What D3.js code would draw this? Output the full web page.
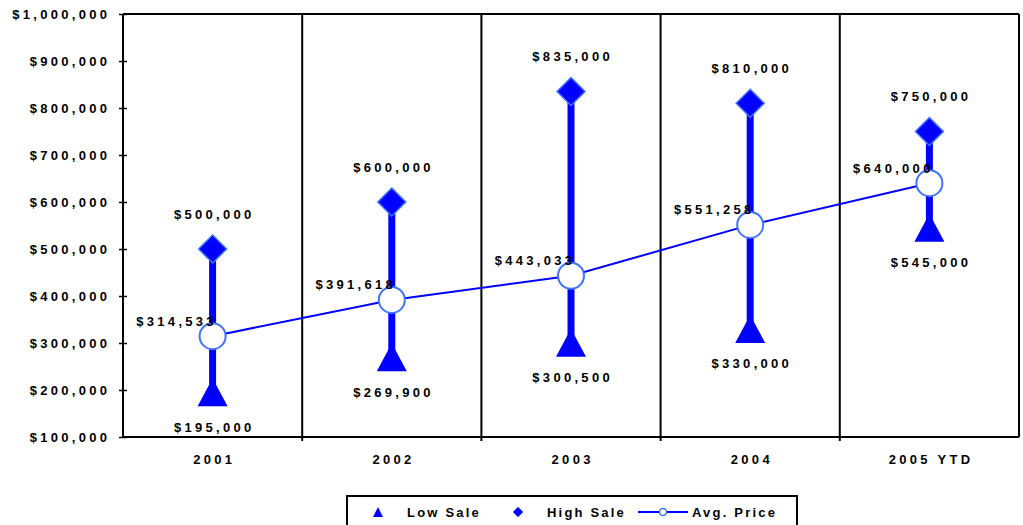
<!DOCTYPE html>
<html>
<head>
<meta charset="utf-8">
<script src="https://cdn.jsdelivr.net/npm/d3@7"></script>
<style>
  body { margin: 0; background: #fff; }
  text { font-family: "Liberation Sans", Arial, sans-serif; font-weight: bold; font-size: 13px; letter-spacing: 3.3px; fill: #000; }
  .legend text { letter-spacing: 2.2px; }
</style>
</head>
<body>
<script>
'use strict';

const years = ['2001', '2002', '2003', '2004', '2005 YTD'];
const lowSale = [195000, 269900, 300500, 330000, 545000];
const highSale = [500000, 600000, 835000, 810000, 750000];
const avgPrice = [314533, 391618, 443033, 551258, 640000];
const yTicks = [100000, 200000, 300000, 400000, 500000, 600000, 700000, 800000, 900000, 1000000];

const margin = {top: 14, right: 4, bottom: 88, left: 123};
const width = 1023 - margin.left - margin.right;
const height = 525 - margin.top - margin.bottom;
const blue = '#0000ff';
const lightBlue = '#3f74ff';
const money = d => '$' + d3.format(',')(d);
const LS = 3.3; // trailing letter-spacing to compensate

const svg = d3.select('body').append('svg')
    .attr('width', 1023)
    .attr('height', 525);

const g = svg.append('g')
    .attr('transform', 'translate(' + margin.left + ',' + margin.top + ')');

const xScale = d3.scaleBand().domain(years).range([0, width]);
const yScale = d3.scaleLinear().domain([100000, 1000000]).range([height, 0]);
const cx = d => xScale(d) + xScale.bandwidth() / 2;

// frame and dividers
g.append('line').attr('x1', 0).attr('x2', width).attr('y1', 0).attr('y2', 0)
    .attr('stroke', '#000').attr('stroke-width', 2);
g.append('line').attr('x1', width).attr('x2', width).attr('y1', 0).attr('y2', height)
    .attr('stroke', '#000').attr('stroke-width', 2);
g.selectAll('.divider')
  .data(years.slice(1))
  .join('line')
    .attr('class', 'divider')
    .attr('x1', d => xScale(d)).attr('x2', d => xScale(d))
    .attr('y1', 0).attr('y2', height + 4)
    .attr('stroke', '#000').attr('stroke-width', 2);

// y axis
const yAxis = g.append('g')
    .call(d3.axisLeft(yScale).tickValues(yTicks).tickFormat(money).tickSize(4).tickPadding(12));
yAxis.select('.domain').attr('stroke', '#000').attr('stroke-width', 2).attr('d', 'M0,' + height + 'V0');
yAxis.selectAll('.tick line').attr('x2', 4).attr('x1', -4).attr('stroke-width', 1.5);
yAxis.selectAll('.tick text')
    .attr('font-size', null).attr('font-family', null)
    .attr('dx', LS);

// x axis
const xAxis = g.append('g')
    .attr('transform', 'translate(0,' + height + ')')
    .call(d3.axisBottom(xScale).tickSize(0).tickPadding(18));
xAxis.select('.domain').attr('stroke', '#000').attr('stroke-width', 2).attr('d', 'M0,0H' + width);
xAxis.selectAll('.tick text')
    .attr('font-size', null).attr('font-family', null)
    .attr('dx', LS / 2);

// stems
g.selectAll('.stem')
  .data(years)
  .join('line')
    .attr('class', 'stem')
    .attr('x1', cx).attr('x2', cx)
    .attr('y1', (d, i) => yScale(highSale[i]))
    .attr('y2', (d, i) => yScale(lowSale[i]))
    .attr('stroke', blue).attr('stroke-width', 7);

// avg line
g.append('path')
    .datum(years)
    .attr('fill', 'none')
    .attr('stroke', blue)
    .attr('stroke-width', 2)
    .attr('d', d3.line().x(cx).y((d, i) => yScale(avgPrice[i])));

// low triangles
g.selectAll('.low')
  .data(years)
  .join('path')
    .attr('class', 'low')
    .attr('transform', (d, i) => 'translate(' + cx(d) + ',' + yScale(lowSale[i]) + ')')
    .attr('d', 'M0,-14L15,14L-15,14Z')
    .attr('fill', blue);

// high diamonds
g.selectAll('.high')
  .data(years)
  .join('path')
    .attr('class', 'high')
    .attr('transform', (d, i) => 'translate(' + cx(d) + ',' + yScale(highSale[i]) + ')')
    .attr('d', 'M0,-14L14,0L0,14L-14,0Z')
    .attr('fill', blue)
    .attr('stroke', lightBlue).attr('stroke-width', 1.5);

// avg circles
g.selectAll('.avg')
  .data(years)
  .join('circle')
    .attr('class', 'avg')
    .attr('cx', cx)
    .attr('cy', (d, i) => yScale(avgPrice[i]))
    .attr('r', 13)
    .attr('fill', '#fff')
    .attr('stroke', lightBlue).attr('stroke-width', 2);

// labels
g.selectAll('.highLabel')
  .data(years)
  .join('text')
    .attr('class', 'highLabel')
    .attr('x', d => cx(d) + LS / 2)
    .attr('y', (d, i) => yScale(highSale[i]) - 35)
    .attr('dy', '0.35em')
    .attr('text-anchor', 'middle')
    .text((d, i) => money(highSale[i]));

g.selectAll('.lowLabel')
  .data(years)
  .join('text')
    .attr('class', 'lowLabel')
    .attr('x', d => cx(d) + LS / 2)
    .attr('y', (d, i) => yScale(lowSale[i]) + 35)
    .attr('dy', '0.35em')
    .attr('text-anchor', 'middle')
    .text((d, i) => money(lowSale[i]));

g.selectAll('.avgLabel')
  .data(years)
  .join('text')
    .attr('class', 'avgLabel')
    .attr('x', d => cx(d) + 1 + LS)
    .attr('y', (d, i) => yScale(avgPrice[i]) - 15)
    .attr('dy', '0.35em')
    .attr('text-anchor', 'end')
    .text((d, i) => money(avgPrice[i]));

// legend
const legend = svg.append('g').attr('class', 'legend').attr('transform', 'translate(347,496)');
legend.append('rect')
    .attr('width', 450).attr('height', 34)
    .attr('fill', '#fff').attr('stroke', '#000').attr('stroke-width', 2);
legend.append('path')
    .attr('transform', 'translate(31,16)')
    .attr('d', 'M0,-5L5,5L-5,5Z')
    .attr('fill', blue);
legend.append('text').attr('x', 60).attr('y', 16).attr('dy', '0.35em').text('Low Sale');
legend.append('path')
    .attr('transform', 'translate(171,16)')
    .attr('d', 'M0,-5L5,0L0,5L-5,0Z')
    .attr('fill', blue).attr('stroke', lightBlue).attr('stroke-width', 1);
legend.append('text').attr('x', 200).attr('y', 16).attr('dy', '0.35em').text('High Sale');
legend.append('line')
    .attr('x1', 291).attr('x2', 341).attr('y1', 16).attr('y2', 16)
    .attr('stroke', blue).attr('stroke-width', 2);
legend.append('circle')
    .attr('cx', 316).attr('cy', 16).attr('r', 3.5)
    .attr('fill', '#fff').attr('stroke', lightBlue).attr('stroke-width', 1.5);
legend.append('text').attr('x', 345).attr('y', 16).attr('dy', '0.35em').text('Avg. Price');
</script>
</body>
</html>
